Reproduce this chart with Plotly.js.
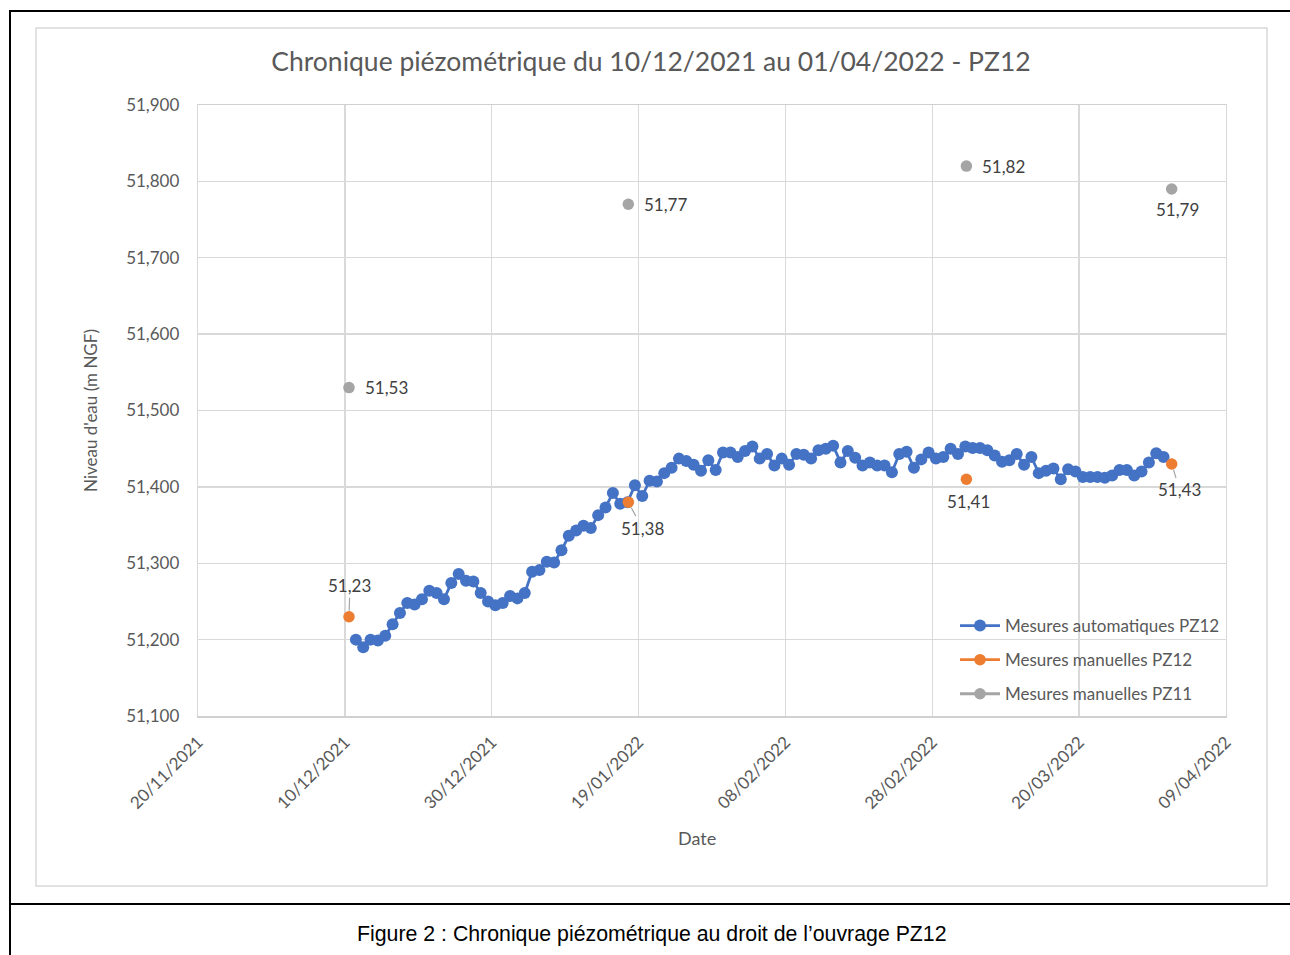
<!DOCTYPE html>
<html>
<head>
<meta charset="utf-8">
<script src="https://cdn.plot.ly/plotly-3.0.1.min.js"></script>
<style>
html,body{margin:0;padding:0;background:#fff;}
#chart{width:1290px;height:955px;}
</style>
</head>
<body>
<div id="chart"></div>
<script>
// ---- Data ----
const autoDates = [
'2021-12-11','2021-12-12','2021-12-13','2021-12-14','2021-12-15','2021-12-16','2021-12-17','2021-12-18','2021-12-19','2021-12-20',
'2021-12-21','2021-12-22','2021-12-23','2021-12-24','2021-12-25','2021-12-26','2021-12-27','2021-12-28','2021-12-29','2021-12-30',
'2021-12-31','2022-01-01','2022-01-02','2022-01-03','2022-01-04','2022-01-05','2022-01-06','2022-01-07','2022-01-08','2022-01-09',
'2022-01-10','2022-01-11','2022-01-12','2022-01-13','2022-01-14','2022-01-15','2022-01-16','2022-01-17','2022-01-18','2022-01-19',
'2022-01-20','2022-01-21','2022-01-22','2022-01-23','2022-01-24','2022-01-25','2022-01-26','2022-01-27','2022-01-28','2022-01-29',
'2022-01-30','2022-01-31','2022-02-01','2022-02-02','2022-02-03','2022-02-04','2022-02-05','2022-02-06','2022-02-07','2022-02-08',
'2022-02-09','2022-02-10','2022-02-11','2022-02-12','2022-02-13','2022-02-14','2022-02-15','2022-02-16','2022-02-17','2022-02-18',
'2022-02-19','2022-02-20','2022-02-21','2022-02-22','2022-02-23','2022-02-24','2022-02-25','2022-02-26','2022-02-27','2022-02-28',
'2022-03-01','2022-03-02','2022-03-03','2022-03-04','2022-03-05','2022-03-06','2022-03-07','2022-03-08','2022-03-09','2022-03-10',
'2022-03-11','2022-03-12','2022-03-13','2022-03-14','2022-03-15','2022-03-16','2022-03-17','2022-03-18','2022-03-19','2022-03-20',
'2022-03-21','2022-03-22','2022-03-23','2022-03-24','2022-03-25','2022-03-26','2022-03-27','2022-03-28','2022-03-29','2022-03-30',
'2022-03-31'
];
const autoPZ12 = [
51.200,51.190,51.200,51.199,51.205,51.220,51.235,51.248,51.246,51.253,
51.264,51.261,51.253,51.274,51.286,51.277,51.276,51.261,51.250,51.245,
51.248,51.257,51.254,51.261,51.289,51.291,51.302,51.301,51.317,51.336,
51.343,51.349,51.346,51.363,51.373,51.392,51.378,51.380,51.402,51.388,
51.408,51.407,51.418,51.425,51.437,51.434,51.429,51.421,51.435,51.422,
51.445,51.445,51.439,51.447,51.453,51.437,51.443,51.428,51.437,51.429,
51.443,51.442,51.437,51.448,51.450,51.454,51.432,51.447,51.438,51.428,
51.432,51.428,51.428,51.419,51.443,51.446,51.425,51.436,51.445,51.437,
51.439,51.450,51.443,51.453,51.451,51.451,51.448,51.441,51.433,51.435,
51.443,51.429,51.439,51.418,51.421,51.424,51.410,51.423,51.420,51.413,
51.413,51.413,51.412,51.415,51.422,51.422,51.415,51.420,51.432,51.444,
51.439
];
const manualDates = ['2021-12-10 13:30','2022-01-17 14:30','2022-03-04 15:30','2022-04-01 14:30'];
const manualPZ12 = [51.23, 51.38, 51.41, 51.43];
const manualPZ11 = [51.53, 51.77, 51.82, 51.79];
const seriesNames = ['Mesures automatiques PZ12','Mesures manuelles PZ12','Mesures manuelles PZ11'];
const xTickStart = '2021-11-20';
const xRange = ['2021-11-20','2022-04-09'];
const yRange = [51.1, 51.9];

// ---- Layout helpers (pixel -> paper) ----
const L = 198, R = 1226, T = 105, B = 716;
const px = x => (x - L) / (R - L);
const py = y => (B - y) / (B - T);
const fmt = v => v.toFixed(2).replace('.', ',');

const FONT = 'Lato, "Open Sans", sans-serif';
const GREY = '#595959';
const LBL = '#404040';
const colors = ['#4472C4', '#ED7D31', '#A5A5A5'];
const MS = 11.5;

const traces = [
  {x: autoDates.map(d => d + ' 12:00'), y: autoPZ12, name: seriesNames[0], type: 'scatter', mode: 'lines+markers',
   line: {color: colors[0], width: 2.8}, marker: {color: colors[0], size: 12}, legendgroup: 'a'},
  {x: manualDates, y: manualPZ12, name: seriesNames[1], type: 'scatter', mode: 'markers',
   marker: {color: colors[1], size: MS}, showlegend: false},
  {x: manualDates, y: manualPZ11, name: seriesNames[2], type: 'scatter', mode: 'markers',
   marker: {color: colors[2], size: MS}, showlegend: false},
  // legend entries (line + marker symbol, as in the original legend)
  {x: [null], y: [null], name: seriesNames[1], type: 'scatter', mode: 'lines+markers',
   line: {color: colors[1], width: 2.8}, marker: {color: colors[1], size: MS}, legendgroup: 'b'},
  {x: [null], y: [null], name: seriesNames[2], type: 'scatter', mode: 'lines+markers',
   line: {color: colors[2], width: 2.8}, marker: {color: colors[2], size: MS}, legendgroup: 'c'}
];

const annotations = [];
// orange labels
const orangeCfg = [
  {arrow: true, ax: 1, ay: -31},
  {arrow: true, ax: 14, ay: 26},
  {arrow: false, xshift: 2, yshift: -22},
  {arrow: true, ax: 8, ay: 26}
];
manualPZ12.forEach((v, i) => {
  const c = orangeCfg[i];
  const a = {x: manualDates[i], y: v, xref: 'x', yref: 'y', text: fmt(v),
    font: {family: FONT, size: 17, color: LBL}};
  if (c.arrow) {
    Object.assign(a, {showarrow: true, arrowhead: 0, arrowwidth: 1.2, arrowcolor: '#A6A6A6',
      ax: c.ax, ay: c.ay, standoff: 6});
  } else {
    Object.assign(a, {showarrow: false, xshift: c.xshift, yshift: c.yshift});
  }
  annotations.push(a);
});
// grey labels
const greyCfg = [
  {xanchor: 'left', xshift: 14, yshift: 0},
  {xanchor: 'left', xshift: 14, yshift: 0},
  {xanchor: 'left', xshift: 14, yshift: 0},
  {xanchor: 'center', xshift: 6, yshift: -20}
];
manualPZ11.forEach((v, i) => {
  const c = greyCfg[i];
  annotations.push({x: manualDates[i], y: v, xref: 'x', yref: 'y', text: fmt(v), showarrow: false,
    xanchor: c.xanchor, xshift: c.xshift, yshift: c.yshift,
    font: {family: FONT, size: 17, color: LBL}});
});
// x axis title (offset from plot centre in the original)
annotations.push({xref: 'paper', yref: 'paper', x: px(697), y: py(838), xanchor: 'center', yanchor: 'middle',
  showarrow: false, text: 'Date', font: {family: FONT, size: 18, color: GREY}});
// caption
annotations.push({xref: 'paper', yref: 'paper', x: px(652), y: py(934), xanchor: 'center', yanchor: 'middle',
  showarrow: false, text: 'Figure 2 : Chronique piézométrique au droit de l’ouvrage PZ12',
  font: {family: '"Liberation Sans", Arial, sans-serif', size: 21.3, color: '#000'}});

const shapes = [
  // document frame lines
  {type: 'line', xref: 'paper', yref: 'paper', x0: px(10), x1: px(1292), y0: py(11), y1: py(11), line: {color: '#000', width: 2}},
  {type: 'line', xref: 'paper', yref: 'paper', x0: px(10), x1: px(10), y0: py(10), y1: py(957), line: {color: '#000', width: 2}},
  {type: 'line', xref: 'paper', yref: 'paper', x0: px(10), x1: px(1292), y0: py(904), y1: py(904), line: {color: '#000', width: 2}},
  // chart container
  {type: 'rect', xref: 'paper', yref: 'paper', x0: px(36), x1: px(1267), y0: py(886), y1: py(28), line: {color: '#D9D9D9', width: 1.5}, fillcolor: 'rgba(0,0,0,0)', layer: 'below'}
];

const layout = {
  width: 1290, height: 955,
  margin: {l: L, r: 1290 - R, t: T, b: 955 - B},
  paper_bgcolor: '#fff', plot_bgcolor: '#fff',
  separators: ', ',
  font: {family: FONT, color: GREY},
  title: {text: 'Chronique piézométrique du 10/12/2021 au 01/04/2022 - PZ12',
    x: 651 / 1290, xanchor: 'center', y: 1 - 62 / 955, yanchor: 'middle',
    font: {family: FONT, size: 26.5, color: GREY}},
  xaxis: {type: 'date', range: xRange, tick0: xTickStart, dtick: 20 * 86400000,
    tickformat: '%d/%m/%Y', tickangle: -45, showgrid: true, gridcolor: '#D9D9D9', gridwidth: 1.3,
    showline: true, linecolor: '#D0D0D0', linewidth: 1.5, mirror: true, zeroline: false,
    ticks: '', ticklabelstandoff: 8,
    tickfont: {family: FONT, size: 17, color: GREY}},
  yaxis: {range: yRange, dtick: 0.1, tick0: 51.1, tickformat: '.3f', showgrid: true, gridcolor: '#D9D9D9', gridwidth: 1.3,
    showline: true, linecolor: '#D9D9D9', linewidth: 1.3, mirror: true, zeroline: false, ticks: '', ticklabelstandoff: 14,
    tickfont: {family: FONT, size: 17, color: GREY},
    title: {text: "Niveau d'eau (m NGF)", standoff: 24, font: {family: FONT, size: 17, color: GREY}}},
  legend: {x: px(955), y: py(608), xanchor: 'left', yanchor: 'top', bgcolor: 'rgba(0,0,0,0)',
    font: {family: FONT, size: 17, color: GREY}, tracegroupgap: 9, itemwidth: 40},
  showlegend: true,
  annotations: annotations,
  shapes: shapes
};

Plotly.newPlot('chart', traces, layout, {displayModeBar: false, staticPlot: true});
</script>
</body>
</html>
